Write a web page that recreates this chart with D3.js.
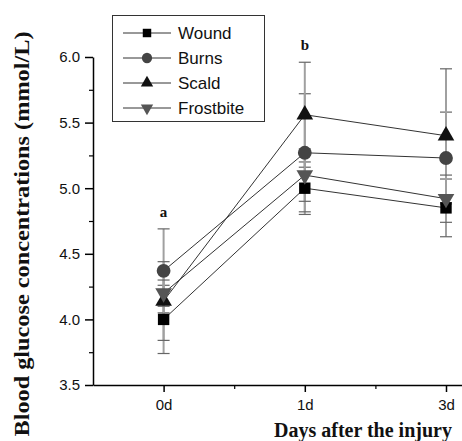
<!DOCTYPE html>
<html><head><meta charset="utf-8">
<script src="https://cdn.jsdelivr.net/npm/d3@7"></script>
<style>body{margin:0;background:#fff}</style>
</head><body><svg id="c" width="462" height="441"></svg>
<script>
const categories = ["0d", "1d", "3d"];
const seriesNames = ["Wound", "Burns", "Scald", "Frostbite"];
const wound = [4.00, 5.00, 4.85];
const burns = [4.37, 5.27, 5.23];
const scald = [4.14, 5.56, 5.40];
const frostbite = [4.20, 5.10, 4.92];
const woundErr = [0.26, 0.20, 0.22];
const burnsErr = [0.32, 0.45, 0.35];
const scaldErr = [0.30, 0.40, 0.51];
const frostbiteErr = [0.10, 0.20, 0.18];
const yTicks = [3.5, 4.0, 4.5, 5.0, 5.5, 6.0];
const sigLabels = [{cat: 0, text: "a", value: 4.78}, {cat: 1, text: "b", value: 6.05}];

const series = [
  {name: seriesNames[0], values: wound, err: woundErr, symbol: d3.symbolSquare, color: "#000", size: 130},
  {name: seriesNames[1], values: burns, err: burnsErr, symbol: d3.symbolCircle, color: "#444", size: 150},
  {name: seriesNames[2], values: scald, err: scaldErr, symbol: d3.symbolTriangle, color: "#111", size: 120},
  {name: seriesNames[3], values: frostbite, err: frostbiteErr, symbol: d3.symbolTriangle, color: "#555", size: 120, flip: true}
];

const svg = d3.select("#c");
const x = d3.scaleLinear().domain([-0.5, 2.6]).range([93, 93 + 3.1 * 141.2]);
const y = d3.scaleLinear().domain([3.5, 6.0]).range([385, 57]);

// axes
const yAxis = d3.axisLeft(y).tickValues(yTicks).tickFormat(d3.format(".1f")).tickSize(8).tickSizeOuter(0);
const gy = svg.append("g").attr("transform", "translate(93,0)").call(yAxis);
gy.select(".domain").attr("stroke", "#000").attr("stroke-width", 1.5);
gy.selectAll(".tick line").attr("stroke-width", 1.5);
gy.selectAll(".tick text").attr("font-family", "Liberation Sans, Arial, sans-serif").attr("font-size", 15).attr("fill", "#111").attr("x", -13);
const yMinor = d3.axisLeft(y).tickValues([3.75, 4.25, 4.75, 5.25, 5.75]).tickFormat("").tickSize(4).tickSizeOuter(0);
const gym = svg.append("g").attr("transform", "translate(93,0)").call(yMinor);
gym.select(".domain").remove();
gym.selectAll(".tick line").attr("stroke-width", 1.2);

const xAxis = d3.axisBottom(x).tickValues([0, 1, 2]).tickFormat((d) => categories[d]).tickSize(7).tickSizeOuter(0);
const gx = svg.append("g").attr("transform", "translate(0,385)").call(xAxis);
gx.select(".domain").attr("stroke", "#000").attr("stroke-width", 1.5);
gx.selectAll(".tick line").attr("stroke-width", 1.5);
gx.selectAll(".tick text").attr("font-family", "Liberation Sans, Arial, sans-serif").attr("font-size", 15).attr("fill", "#111").attr("y", 14);
const xMinor = d3.axisBottom(x).tickValues([0.5, 1.5]).tickFormat("").tickSize(4).tickSizeOuter(0);
const gxm = svg.append("g").attr("transform", "translate(0,385)").call(xMinor);
gxm.select(".domain").remove();
gxm.selectAll(".tick line").attr("stroke-width", 1.2);

// axis titles
svg.append("text").attr("transform", "translate(29,234) rotate(-90)").attr("text-anchor", "middle")
  .attr("font-family", "Liberation Serif, Times New Roman, serif").attr("font-weight", "bold").attr("font-size", 20)
  .attr("textLength", 405).attr("lengthAdjust", "spacingAndGlyphs")
  .attr("fill", "#111").text("Blood glucose concentrations (mmol/L)");
svg.append("text").attr("x", 363).attr("y", 437).attr("text-anchor", "middle")
  .attr("font-family", "Liberation Serif, Times New Roman, serif").attr("font-weight", "bold").attr("font-size", 20)
  .attr("fill", "#111").text("Days after the injury");

// error bars
series.forEach((s) => {
  const g = svg.append("g");
  s.values.forEach((v, i) => {
    const cx = x(i);
    g.append("line").attr("x1", cx).attr("x2", cx).attr("y1", y(v - s.err[i])).attr("y2", y(v + s.err[i]))
      .attr("stroke", "#a0a0a0").attr("stroke-width", 2);
    [v - s.err[i], v + s.err[i]].forEach((e) => {
      g.append("line").attr("x1", cx - 6).attr("x2", cx + 6).attr("y1", y(e)).attr("y2", y(e))
        .attr("stroke", "#666").attr("stroke-width", 1.2);
    });
  });
});

// lines
const line = d3.line().x((d, i) => x(i)).y((d) => y(d));
series.forEach((s) => {
  svg.append("path").attr("d", line(s.values)).attr("fill", "none").attr("stroke", "#333").attr("stroke-width", 1);
});

// markers
function marker(g, s, cx, cy, k) {
  g.append("path").attr("d", d3.symbol().type(s.symbol).size(s.size * k)())
    .attr("transform", `translate(${cx},${cy})` + (s.flip ? " rotate(180)" : ""))
    .attr("fill", s.color);
}
series.forEach((s) => {
  const g = svg.append("g");
  s.values.forEach((v, i) => marker(g, s, x(i), y(v), 1));
});

// significance labels
sigLabels.forEach((l) => {
  svg.append("text").attr("x", x(l.cat)).attr("y", y(l.value)).attr("text-anchor", "middle")
    .attr("font-family", "Liberation Serif, Times New Roman, serif").attr("font-weight", "bold").attr("font-size", 15)
    .attr("fill", "#111").text(l.text);
});

// legend
const lg = svg.append("g");
lg.append("rect").attr("x", 112.5).attr("y", 15.5).attr("width", 152).attr("height", 106)
  .attr("fill", "#fff").attr("stroke", "#333").attr("stroke-width", 1);
series.forEach((s, i) => {
  const ly = 33 + i * 25;
  lg.append("line").attr("x1", 123).attr("x2", 171).attr("y1", ly).attr("y2", ly).attr("stroke", "#333").attr("stroke-width", 1);
  marker(lg, s, 147, ly, 0.55);
  lg.append("text").attr("x", 178).attr("y", ly + 6).attr("font-family", "Liberation Sans, Arial, sans-serif")
    .attr("font-size", 17).attr("fill", "#111").text(s.name);
});
</script></body></html>
